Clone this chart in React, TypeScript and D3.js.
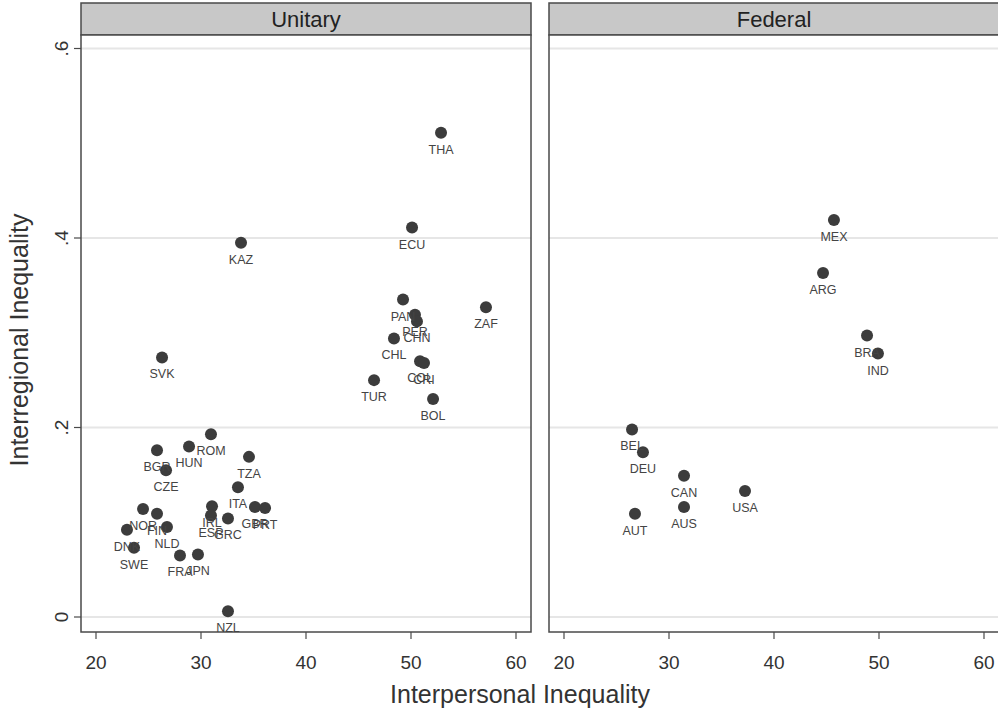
import React from "react";
import * as d3 from "d3";

const unitaryCodes = ["THA","ECU","KAZ","PAN","PER","CHN","CHL","COL","CRI","TUR","BOL","ZAF","SVK","ROM","HUN","BGR","CZE","TZA","ITA","GBR","PRT","IRL","ESP","GRC","NOR","FIN","NLD","DNK","SWE","FRA","JPN","NZL"];
const unitaryX = [52.86,50.1,33.81,49.24,50.38,50.57,48.38,50.86,51.24,46.48,52.1,57.14,26.29,30.95,28.86,25.81,26.67,34.57,33.52,35.14,36.1,31.05,30.95,32.57,24.48,25.81,26.76,22.95,23.62,28.0,29.71,32.57];
const unitaryY = [0.511,0.411,0.395,0.335,0.319,0.312,0.294,0.27,0.268,0.25,0.23,0.327,0.274,0.193,0.18,0.176,0.155,0.169,0.137,0.116,0.115,0.117,0.107,0.104,0.114,0.109,0.095,0.092,0.073,0.065,0.066,0.006];

const federalCodes = ["MEX","ARG","BRA","IND","BEL","DEU","CAN","AUS","USA","AUT"];
const federalX = [45.71,44.67,48.86,49.9,26.48,27.52,31.43,31.43,37.24,26.76];
const federalY = [0.419,0.363,0.297,0.278,0.198,0.174,0.149,0.116,0.133,0.109];

const panelTitles = ["Unitary", "Federal"];
const xTicks = [20, 30, 40, 50, 60];
const yTicks = [0, 0.2, 0.4, 0.6];
const yTickLabels = ["0", ".2", ".4", ".6"];
const xTitle = "Interpersonal Inequality";
const yTitle = "Interregional Inequality";

const FONT = "'Liberation Sans', Arial, Helvetica, sans-serif";

export default function App() {
  const W = 998, H = 713;
  const panelW = 450;
  const panelLefts = [81, 549];
  const headerTop = 3, plotTop = 35, plotBottom = 632;
  const xDomain: [number, number] = [20 - 15 / 10.5, 20 + 435 / 10.5];
  const y = d3.scaleLinear().domain([0, 0.2]).range([617, 427.5]);

  const panels = [
    { title: panelTitles[0], codes: unitaryCodes, xs: unitaryX, ys: unitaryY },
    { title: panelTitles[1], codes: federalCodes, xs: federalX, ys: federalY },
  ];

  return (
    <svg width={W} height={H} style={{ position: "absolute", left: 0, top: 0, background: "#fff" }} fontFamily={FONT}>
      <rect x={0} y={0} width={W} height={H} fill="#fff" />
      {panels.map((p, pi) => {
        const left = panelLefts[pi];
        const x = d3.scaleLinear().domain(xDomain).range([left, left + panelW]);
        return (
          <g key={pi}>
            {/* header */}
            <rect x={left} y={headerTop} width={panelW} height={plotTop - headerTop} fill="#c8c8c8" stroke="#4a4a4a" strokeWidth={1.5} />
            <text x={left + panelW / 2} y={27} textAnchor="middle" fontSize={22} fill="#222">{p.title}</text>
            {/* plot area */}
            <rect x={left} y={plotTop} width={panelW} height={plotBottom - plotTop} fill="#fff" />
            {yTicks.map((t, i) => (
              <line key={i} x1={left} x2={left + panelW} y1={y(t)} y2={y(t)} stroke="#e6e6e6" strokeWidth={2} />
            ))}
            <rect x={left} y={plotTop} width={panelW} height={plotBottom - plotTop} fill="none" stroke="#4a4a4a" strokeWidth={1.5} />
            {/* x axis ticks */}
            {xTicks.map((t, i) => (
              <g key={i}>
                <line x1={x(t)} x2={x(t)} y1={plotBottom} y2={plotBottom + 7} stroke="#4a4a4a" strokeWidth={1.2} />
                <text x={x(t)} y={669} textAnchor="middle" fontSize={19} fill="#333">{t}</text>
              </g>
            ))}
            {/* y axis on left panel */}
            {pi === 0 && yTicks.map((t, i) => (
              <g key={i}>
                <line x1={left - 7} x2={left} y1={y(t)} y2={y(t)} stroke="#4a4a4a" strokeWidth={1.2} />
                <text transform={`translate(68,${y(t)}) rotate(-90)`} textAnchor="middle" fontSize={19} fill="#333">{yTickLabels[i]}</text>
              </g>
            ))}
            {/* points */}
            {p.codes.map((c, i) => (
              <g key={c}>
                <circle cx={x(p.xs[i])} cy={y(p.ys[i])} r={6} fill="#3c3c3c" />
              </g>
            ))}
            {p.codes.map((c, i) => (
              <text key={c + "l"} x={x(p.xs[i])} y={y(p.ys[i]) + 21} textAnchor="middle" fontSize={12.5} fill="#444">{c}</text>
            ))}
          </g>
        );
      })}
      <text x={520} y={703} textAnchor="middle" fontSize={25} fill="#333">{xTitle}</text>
      <text transform={`translate(28,340) rotate(-90)`} textAnchor="middle" fontSize={25} fill="#333">{yTitle}</text>
    </svg>
  );
}
